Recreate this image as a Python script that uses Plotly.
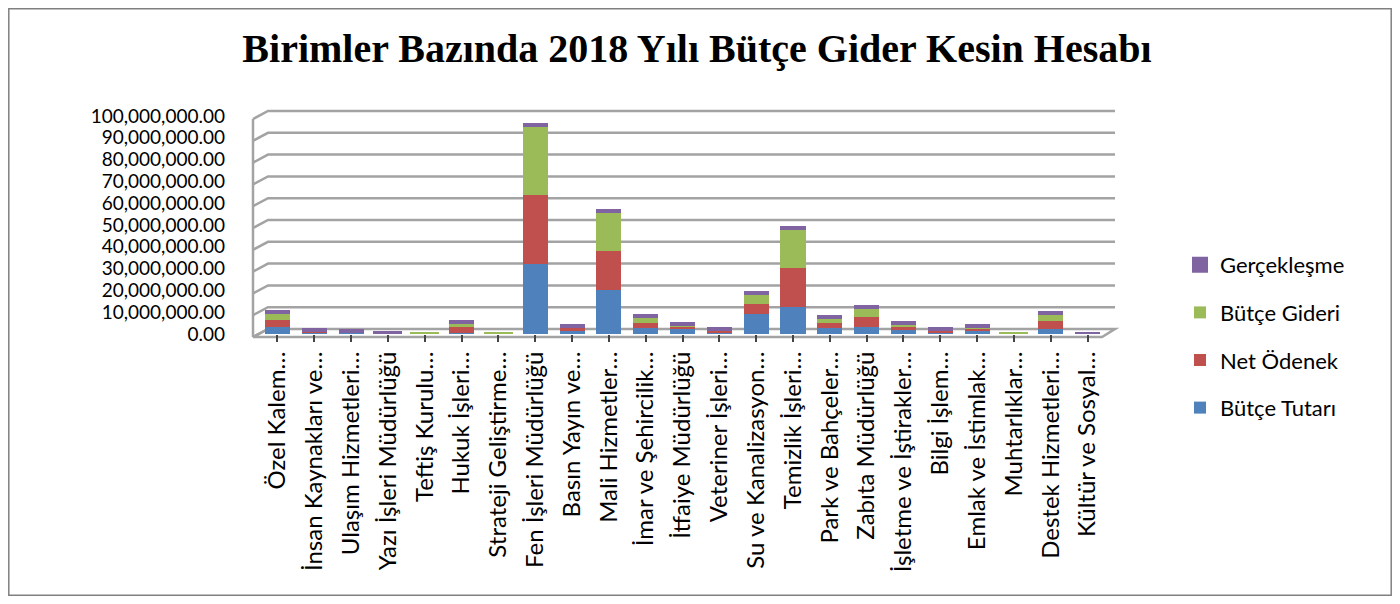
import plotly.graph_objects as go

categories = ["Özel Kalem…", "İnsan Kaynakları ve…", "Ulaşım Hizmetleri…", "Yazı İşleri Müdürlüğü",
              "Teftiş Kurulu…", "Hukuk İşleri…", "Strateji Geliştirme…", "Fen İşleri Müdürlüğü",
              "Basın Yayın ve…", "Mali Hizmetler…", "İmar ve Şehircilik…", "İtfaiye Müdürlüğü",
              "Veteriner İşleri…", "Su ve Kanalizasyon…", "Temizlik İşleri…", "Park ve Bahçeler…",
              "Zabıta Müdürlüğü", "İşletme ve İştirakler…", "Bilgi İşlem…", "Emlak ve İstimlak…",
              "Muhtarlıklar…", "Destek Hizmetleri…", "Kültür ve Sosyal…"]

butce_tutari = [3.3e6, 0.6e6, 0.5e6, 0.1e6, 0, 0.4e6, 0, 32.0e6, 1.6e6, 20.0e6, 2.8e6, 2.2e6,
                0.9e6, 9.2e6, 12.5e6, 2.6e6, 3.0e6, 1.8e6, 0.8e6, 1.5e6, 0, 2.3e6, 0.1e6]
net_odenek = [3.3e6, 0.6e6, 0.5e6, 0.1e6, 0, 2.6e6, 0, 31.8e6, 1.0e6, 18.0e6, 2.3e6, 1.0e6,
              0.8e6, 4.6e6, 17.8e6, 2.5e6, 4.9e6, 1.5e6, 0.7e6, 1.0e6, 0, 3.8e6, 0.05e6]
butce_gideri = [3.4e6, 0.5e6, 0.4e6, 0.05e6, 0.05e6, 2.3e6, 0.05e6, 32.3e6, 1.2e6, 18.5e6, 3.0e6, 1.3e6,
                0.7e6, 4.8e6, 18.5e6, 2.9e6, 4.6e6, 1.8e6, 0.7e6, 1.1e6, 0.05e6, 3.7e6, 0.05e6]
gerceklesme = [96.5, 92.0, 88.0, 90.0, None, 97.0, None, 98.5, 93.0, 97.5, 95.0, 94.0,
               91.0, 96.0, 98.0, 94.5, 95.5, 93.5, 90.5, 92.5, None, 96.0, 85.0]

y_ticks = [0, 10e6, 20e6, 30e6, 40e6, 50e6, 60e6, 70e6, 80e6, 90e6, 100e6]

BLUE, RED, GREEN, PURPLE = "#4F81BD", "#C0504D", "#9BBB59", "#8064A2"
FONT = "Lato"

# The page body has an 8px margin: work in screenshot pixels and shift.
OFF = 8
FW, FH = 1384, 588
# plot area in screenshot pixels
L, R, T, B = 259, 1106, 116, 334
W, H = R - L, B - T


def px_x(px):
    return (px - L) / W


def px_y(py):
    return (B - py) / H


def v_py(v):
    return B - v * H / 1e8


fig = go.Figure()

green_cap_w = [4 if g is None else 0 for g in gerceklesme]

fig.add_trace(go.Bar(x=categories, y=butce_tutari, name="Bütçe Tutarı", marker_color=BLUE,
                     marker_line_width=0, legendgroup="a", legendrank=4))
fig.add_trace(go.Bar(x=categories, y=net_odenek, name="Net Ödenek", marker_color=RED,
                     marker_line_width=0, legendgroup="b", legendrank=3))
fig.add_trace(go.Bar(x=categories, y=butce_gideri, name="Bütçe Gideri", marker_color=GREEN,
                     marker_line=dict(width=green_cap_w, color=GREEN), legendgroup="c", legendrank=2))
fig.add_trace(go.Bar(x=categories, y=gerceklesme, name="Gerçekleşme", marker_color=PURPLE,
                     marker_line=dict(width=4, color=PURPLE), legendgroup="d", legendrank=1))

shapes = []
GRID = "#A3A3A3"
fl, bl, br, fr = 253, 268, 1115, 1102
front_off, back_off = 3, -5
shapes.append(dict(type="path", xref="paper", yref="paper", layer="below",
                   path="M{},{} L{},{} L{},{} L{},{} Z".format(
                       px_x(fl), px_y(v_py(0) + front_off), px_x(fr), px_y(v_py(0) + front_off),
                       px_x(br), px_y(v_py(0) + back_off), px_x(bl), px_y(v_py(0) + back_off)),
                   line=dict(color=GRID, width=2.5), fillcolor="white"))
for v in y_ticks:
    yf = px_y(v_py(v) + front_off)
    yb = px_y(v_py(v) + back_off)
    if v == 0:
        path = "M{},{} L{},{}".format(px_x(fl), yf, px_x(bl), yb)
    else:
        path = "M{},{} L{},{} L{},{}".format(px_x(fl), yf, px_x(bl), yb, px_x(br), yb)
    shapes.append(dict(type="path", xref="paper", yref="paper", layer="below", path=path,
                       line=dict(color=GRID, width=2.5)))
shapes.append(dict(type="line", xref="paper", yref="paper", layer="below",
                   x0=px_x(fl), x1=px_x(fl),
                   y0=px_y(v_py(0) + front_off), y1=px_y(v_py(100e6) + front_off),
                   line=dict(color=GRID, width=2.5)))
# outer chart border (figure edges)
shapes.append(dict(type="rect", xref="paper", yref="paper", layer="above",
                   x0=px_x(OFF + 0.8), x1=px_x(OFF + FW - 0.8), y0=px_y(OFF + FH - 0.8), y1=px_y(OFF + 0.8),
                   line=dict(color="#808080", width=1.5), fillcolor="rgba(0,0,0,0)"))

fig.update_layout(
    barmode="stack",
    bargap=0.32,
    width=FW, height=FH,
    paper_bgcolor="white", plot_bgcolor="rgba(0,0,0,0)",
    margin=dict(l=L - OFF, r=OFF + FW - R, t=T - OFF, b=OFF + FH - B, autoexpand=False),
    title=dict(text="<b>Birimler Bazında 2018 Yılı Bütçe Gider Kesin Hesabı</b>",
               font=dict(family="Liberation Serif", size=40, color="black"),
               x=(697 - OFF) / FW, xanchor="center", xref="container",
               y=1 - (48 - OFF) / FH, yanchor="middle", yref="container"),
    xaxis=dict(showgrid=False, showline=False, zeroline=False, ticks="outside", ticklen=7,
               tickwidth=1.5, tickcolor="#444", tickangle=-90,
               tickfont=dict(family=FONT, size=24, color="black"),
               range=[-0.5, len(categories) - 0.5]),
    yaxis=dict(range=[0, 100e6], tickvals=y_ticks, tickformat=",.2f", showgrid=False,
               zeroline=False, showline=False, ticks="", ticklabelstandoff=33,
               tickfont=dict(family=FONT, size=19, color="black")),
    legend=dict(x=px_x(1180), y=px_y(244), xanchor="left", yanchor="top",
                traceorder="grouped", tracegroupgap=16,
                font=dict(family=FONT, size=22, color="black"), bgcolor="rgba(0,0,0,0)"),
    shapes=shapes,
    showlegend=True,
)

fig.write_html("out.html")
